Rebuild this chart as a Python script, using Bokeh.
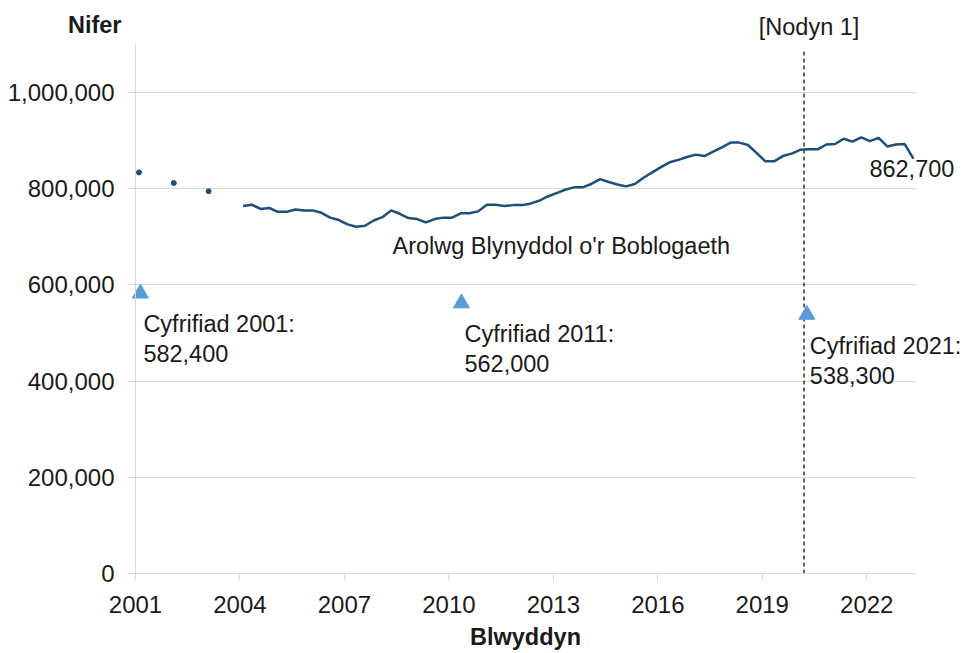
import numpy as np
from bokeh.plotting import figure
from bokeh.models import (ColumnDataSource, FixedTicker, NumeralTickFormatter,
                          Label, LabelSet, Range1d, BoxAnnotation)
from bokeh.core.properties import value
from bokeh.embed import file_html
from bokeh.resources import INLINE

# ---------------- data ----------------
annual_years = [2001.1, 2002.1, 2003.1]
annual_values = [834000, 812000, 795000]

aps_start = 2004.09          # first quarterly estimate (year)
aps_step = 0.25              # quarterly
aps_values = [
    764000, 767000, 758000, 760000, 752000, 752000, 757000, 755000, 755000, 750000,
    740000, 735000, 726000, 721000, 723000, 734000, 741000, 755000, 748000, 739000,
    737000, 730000, 737000, 740000, 740000, 749000, 749000, 753000, 767000, 767000,
    764000, 766000, 766000,
    769000, 775000, 784000, 791000, 798000, 803000, 803000, 810000, 820000, 814000,
    809000, 805000, 810000, 823000, 834000, 845000, 855000, 860000, 866000, 871000,
    868000, 877000, 886000, 896000, 896000, 891000, 874000, 857000, 857000, 868000,
    873000, 881000, 882000, 882000, 892000, 893000, 904000, 898000, 907000, 899000,
    906000, 888000, 892000, 893000, 862700,
]
aps_years = [aps_start + i * aps_step for i in range(len(aps_values))]

census_years = [2001.14, 2010.36, 2020.28]
census_values = [582400, 562000, 538300]
census_labels = ["Cyfrifiad 2001:\n582,400", "Cyfrifiad 2011:\n562,000",
                 "Cyfrifiad 2021:\n538,300"]

note_year = 2020.2
note_text = "[Nodyn 1]"
series_label = "Arolwg Blynyddol o'r Boblogaeth"
series_label_year = 2008.38
series_label_value = 707000

x_bounds = (2001, 2023.4)
y_bounds = (0, 1100000)
x_ticks = [2001, 2004, 2007, 2010, 2013, 2016, 2019, 2022]
y_ticks = [0, 200000, 400000, 600000, 800000, 1000000]
x_title = "Blwyddyn"
y_title = "Nifer"

# ---------------- layout / style ----------------
W, H = 960, 650
PLOT_LEFT, PLOT_RIGHT, PLOT_TOP, PLOT_BOTTOM = 135, 915, 44, 573   # pixels

kx = (PLOT_RIGHT - PLOT_LEFT) / (x_bounds[1] - x_bounds[0])
ky = (PLOT_BOTTOM - PLOT_TOP) / (y_bounds[1] - y_bounds[0])
x_start = x_bounds[0] - PLOT_LEFT / kx
x_end = x_start + W / kx
y_start = y_bounds[0] - (H - PLOT_BOTTOM) / ky
y_end = y_start + H / ky

FONT = "Liberation Sans"
FS = "23.5px"
TICK_FS = "24px"
TXT = "#1a1a1a"
LINE = "#1f4e79"
TRI = "#5b9bd5"
GRID = "#d9d9d9"

p = figure(width=W, height=H, output_backend="svg", toolbar_location=None,
           x_range=Range1d(x_start, x_end), y_range=Range1d(y_start, y_end),
           min_border=0)
p.outline_line_color = None
p.xgrid.grid_line_color = None
p.ygrid.grid_line_color = GRID
p.ygrid.grid_line_width = 1
p.ygrid.ticker = FixedTicker(ticks=y_ticks)
try:
    p.ygrid[0].cross_bounds = x_bounds
    need_mask = False
except Exception:
    need_mask = True

for ax in (p.xaxis[0], p.yaxis[0]):
    ax.axis_line_color = GRID
    ax.major_tick_line_color = GRID
    ax.minor_tick_line_color = None
    ax.major_tick_in = 0
    ax.major_label_text_font = FONT
    ax.major_label_text_font_size = TICK_FS
    ax.major_label_text_color = TXT

p.xaxis.fixed_location = y_bounds[0]
p.xaxis.bounds = x_bounds
p.xaxis.ticker = FixedTicker(ticks=x_ticks)
p.xaxis.major_tick_out = 7
p.xaxis.major_label_standoff = 15
p.xaxis.axis_label = x_title
p.xaxis.axis_label_text_font = FONT
p.xaxis.axis_label_text_font_size = FS
p.xaxis.axis_label_text_font_style = "bold"
p.xaxis.axis_label_text_color = TXT
p.xaxis.axis_label_standoff = 8

p.yaxis.fixed_location = x_bounds[0]
p.yaxis.bounds = y_bounds
p.yaxis.ticker = FixedTicker(ticks=y_ticks)
p.yaxis.formatter = NumeralTickFormatter(format="0,0")
p.yaxis.major_tick_out = 7
p.yaxis.major_label_standoff = 14

if need_mask:
    p.add_layout(BoxAnnotation(left=x_bounds[1], fill_color="white", fill_alpha=1,
                               line_color=None, level="underlay"))
    p.add_layout(BoxAnnotation(right=x_bounds[0], fill_color="white", fill_alpha=1,
                               line_color=None, level="underlay"))

# dashed note line
p.segment(x0=[note_year], y0=[0], x1=[note_year], y1=[1085000],
          line_color="#333333", line_width=1.5, line_dash="4 3")

# annual dots
p.scatter(annual_years, annual_values, size=5, color=LINE)

# quarterly APS line
p.line(aps_years, aps_values, line_color=LINE, line_width=2.5)

# census triangles
csrc = ColumnDataSource(dict(x=census_years, y=census_values, t=census_labels))
p.scatter("x", "y", source=csrc, marker="triangle", size=16, color=TRI)
p.add_layout(LabelSet(x="x", y="y", text="t", source=csrc, x_offset=3, y_offset=-18,
                      text_baseline="top", text_font=value(FONT), text_font_size=FS,
                      text_color=TXT, text_line_height=1.15))

# texts
p.add_layout(Label(x=series_label_year, y=series_label_value, text=series_label,
                   text_font=FONT, text_font_size=FS, text_color=TXT,
                   text_baseline="top"))
p.add_layout(Label(x=aps_years[-1], y=aps_values[-1], text="{:,}".format(aps_values[-1]),
                   x_offset=-44, y_offset=-1, text_baseline="top",
                   text_font=FONT, text_font_size=FS, text_color=TXT))
p.add_layout(Label(x=note_year, y=y_bounds[1], text=note_text, x_offset=5, y_offset=31,
                   text_align="center", text_baseline="top",
                   text_font=FONT, text_font_size=FS, text_color=TXT))
p.add_layout(Label(x=x_bounds[0], y=y_bounds[1], text=y_title, x_offset=-14, y_offset=33,
                   text_align="right", text_baseline="top",
                   text_font=FONT, text_font_size=FS, text_font_style="bold",
                   text_color=TXT))

open("out.html", "w").write(file_html(p, INLINE))
